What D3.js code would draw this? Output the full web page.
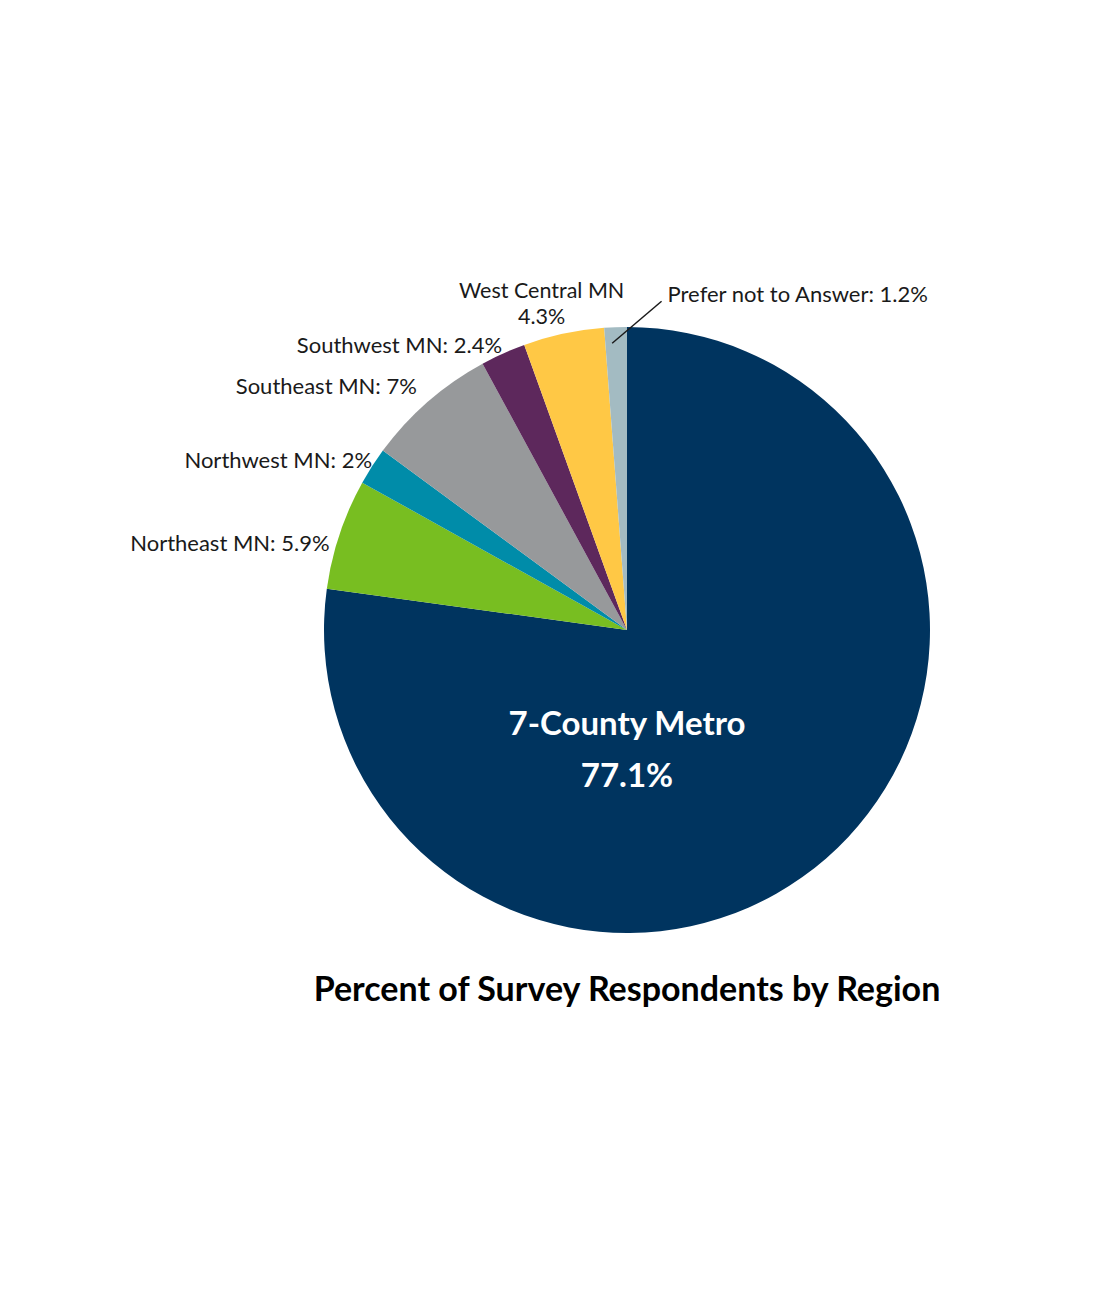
<!DOCTYPE html>
<html>
<head>
<meta charset="utf-8">
<script src="https://cdn.jsdelivr.net/npm/d3@7"></script>
<style>
  body { margin: 0; background: #fff; }
  text { font-family: Lato, "Open Sans", sans-serif; }
</style>
</head>
<body>
<script>
// data
var regions = ["7-County Metro", "Northeast MN", "Northwest MN", "Southeast MN",
  "Southwest MN", "West Central MN", "Prefer not to Answer"];
var percents = [77.1, 5.9, 2, 7, 2.4, 4.3, 1.2];
var colors = ["#00345f", "#78be21", "#008ca9", "#97999b", "#5d285c", "#ffc845", "#a3bbc2"];
var title = "Percent of Survey Respondents by Region";

var width = 1100, height = 1300;
var cx = 627, cy = 630, radius = 303;

var svg = d3.select("body").append("svg")
  .attr("width", width)
  .attr("height", height);

var g = svg.append("g")
  .attr("transform", "translate(" + cx + "," + cy + ")");

var pie = d3.pie().sort(null).value(function (d) { return d; });
var arcs = pie(percents);

var arc = d3.arc().innerRadius(0).outerRadius(radius);

g.selectAll("path.slice")
  .data(arcs)
  .enter()
  .append("path")
  .attr("class", "slice")
  .attr("d", arc)
  .attr("fill", function (d, i) { return colors[i]; });

// point on a circle of radius r at the middle of a slice
function midPoint(d, r) {
  var a = (d.startAngle + d.endAngle) / 2;
  return [r * Math.sin(a), -r * Math.cos(a)];
}

// small label nudges from the slice's outer midpoint (anchor, dx, dy)
var labelNudge = [
  null,
  ["end", -10, 17],
  ["end", 0, 2],
  ["end", -11, -8],
  ["end", -1, -1],
  ["middle", -22, -36],
  ["start", 52, -25]
];

arcs.forEach(function (d, i) {
  if (i === 0) return;
  var p = midPoint(d, radius);
  var n = labelNudge[i];
  var x = p[0] + n[1], y = p[1] + n[2];
  function label(txt, yy, size) {
    return g.append("text")
      .attr("x", x)
      .attr("y", yy)
      .attr("text-anchor", n[0])
      .attr("font-size", size)
      .attr("fill", "#1a1a1a")
      .text(txt);
  }
  if (i === 5) {
    // two-line label
    label(regions[i], y, 21.5);
    label(percents[i] + "%", y + 26, 21.5);
  } else {
    label(regions[i] + ": " + percents[i] + "%", y, 22);
  }
  if (i === 6) {
    var inner = midPoint(d, radius - 16);
    g.append("line")
      .attr("x1", inner[0] - 4).attr("y1", inner[1])
      .attr("x2", x - 6).attr("y2", y - 1)
      .attr("stroke", "#1a1a1a")
      .attr("stroke-width", 1.5);
  }
});

// big label inside the metro slice
var metro = g.append("text")
  .attr("text-anchor", "middle")
  .attr("fill", "#fff")
  .attr("font-weight", 700)
  .attr("font-size", 33);
metro.append("tspan").attr("x", 0).attr("y", 105).text(regions[0]);
metro.append("tspan").attr("x", 0).attr("y", 157).text(percents[0] + "%");

svg.append("text")
  .attr("x", cx)
  .attr("y", 1001)
  .attr("text-anchor", "middle")
  .attr("font-weight", 700)
  .attr("font-size", 34)
  .attr("fill", "#000")
  .text(title);
</script>
</body>
</html>
